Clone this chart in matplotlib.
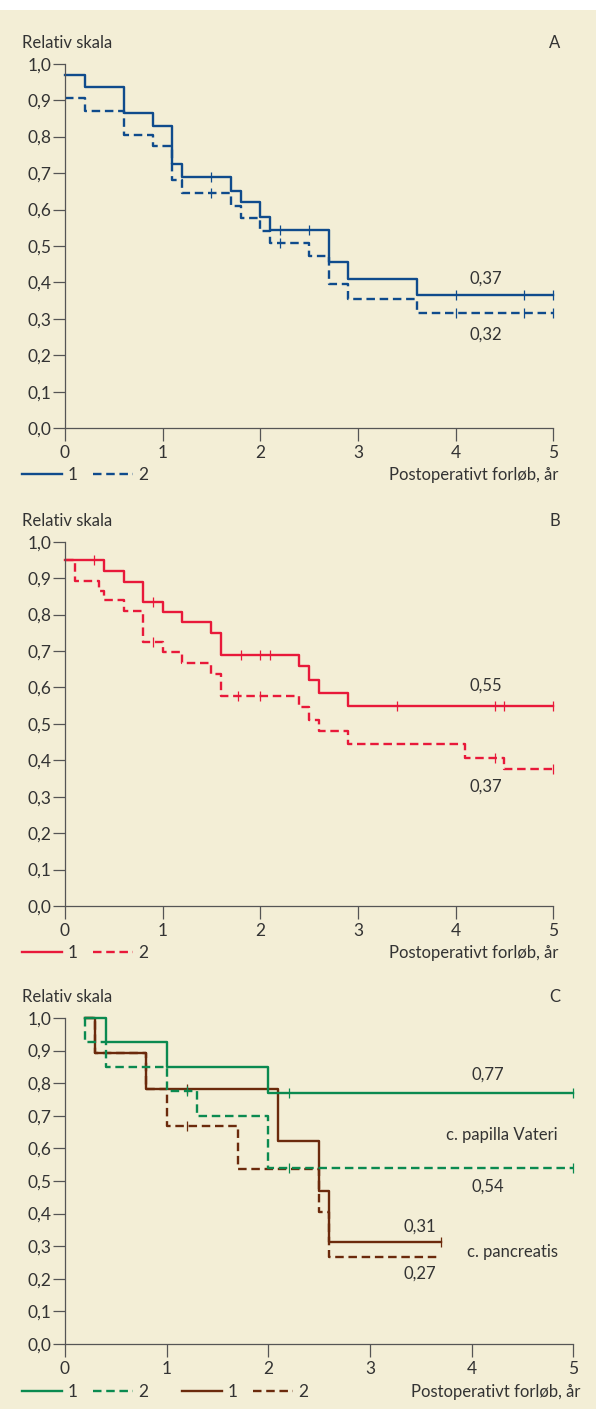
import numpy as np
import matplotlib.pyplot as plt
from matplotlib.lines import Line2D
from matplotlib.patches import Rectangle

plt.rcParams['font.family'] = ['Lato', 'DejaVu Sans']

# ---- data (time in years, relative survival) ----
# panel A
a1_t = [0, 0.2, 0.6, 0.9, 1.1, 1.2, 1.7, 1.8, 2.0, 2.1, 2.7, 2.9, 3.6, 5.0]
a1_s = [0.97, 0.935, 0.865, 0.83, 0.725, 0.69, 0.65, 0.62, 0.58, 0.545, 0.455, 0.41, 0.365, 0.365]
a1_c = [1.5, 2.2, 2.5, 4.0, 4.7, 5.0]
a2_t = [0, 0.2, 0.6, 0.9, 1.1, 1.2, 1.7, 1.8, 2.0, 2.1, 2.5, 2.7, 2.9, 3.6, 5.0]
a2_s = [0.905, 0.87, 0.805, 0.775, 0.68, 0.645, 0.61, 0.578, 0.54, 0.508, 0.472, 0.395, 0.355, 0.315, 0.315]
a2_c = [1.5, 2.2, 4.0, 4.7, 5.0]
# panel B
b1_t = [0, 0.4, 0.6, 0.8, 1.0, 1.2, 1.5, 1.6, 2.4, 2.5, 2.6, 2.9, 5.0]
b1_s = [0.95, 0.92, 0.89, 0.835, 0.808, 0.78, 0.75, 0.69, 0.66, 0.62, 0.586, 0.549, 0.549]
b1_c = [0.3, 0.9, 1.8, 2.0, 2.1, 3.4, 4.4, 4.5, 5.0]
b2_t = [0, 0.1, 0.35, 0.4, 0.6, 0.8, 1.0, 1.2, 1.5, 1.6, 2.4, 2.5, 2.6, 2.9, 4.1, 4.5, 5.0]
b2_s = [0.95, 0.892, 0.865, 0.84, 0.81, 0.725, 0.696, 0.668, 0.638, 0.576, 0.547, 0.51, 0.48, 0.444, 0.407, 0.375, 0.375]
b2_c = [0.9, 1.77, 2.0, 4.4, 5.0]
# panel C: papilla Vateri (green), pancreatis (brown)
c1_t = [0.2, 0.4, 1.0, 2.0, 5.0]
c1_s = [1.0, 0.927, 0.849, 0.771, 0.771]
c1_c = [2.2, 5.0]
c2_t = [0.2, 0.2, 0.4, 1.0, 1.3, 2.0, 5.0]
c2_s = [1.0, 0.927, 0.849, 0.775, 0.699, 0.541, 0.541]
c2_c = [1.2, 2.2, 5.0]
c3_t = [0.2, 0.3, 0.8, 2.1, 2.5, 2.6, 3.7]
c3_s = [1.0, 0.892, 0.782, 0.624, 0.47, 0.312, 0.312]
c3_c = [1.2, 3.7]
c4_t = [0.2, 0.3, 0.8, 1.0, 1.7, 2.5, 2.6, 3.7]
c4_s = [1.0, 0.892, 0.782, 0.67, 0.537, 0.404, 0.268, 0.268]
c4_c = [1.2]

y_ticks = [0, 0.1, 0.2, 0.3, 0.4, 0.5, 0.6, 0.7, 0.8, 0.9, 1.0]
y_labels = ['0,0', '0,1', '0,2', '0,3', '0,4', '0,5', '0,6', '0,7', '0,8', '0,9', '1,0']
x_ticks = [0, 1, 2, 3, 4, 5]

bg = '#f3eed6'
txt = '#333333'
blue = '#0f4b8c'
red = '#e8193a'
green = '#0a8a50'
brown = '#6b2a0c'
FS = 12

W, H = 596, 1409
fig = plt.figure(figsize=(W / 100, H / 100), dpi=100, facecolor=bg)
fig.patches.append(Rectangle((0, 1 - 10 / H), 1, 10 / H, transform=fig.transFigure,
                             facecolor='white', edgecolor='none'))


def px(x, y):
    return x / W, 1 - y / H


def make_ax(x0, x1, ytop, ybot):
    ax = fig.add_axes([x0 / W, 1 - ybot / H, (x1 - x0) / W, (ybot - ytop) / H])
    ax.set_facecolor('none')
    ax.set_xlim(0, 5)
    ax.set_ylim(0, 1.0)
    for s in ['top', 'right']:
        ax.spines[s].set_visible(False)
    for s in ['left', 'bottom']:
        ax.spines[s].set_color('#555555')
        ax.spines[s].set_linewidth(0.9)
    ax.set_yticks(y_ticks)
    ax.set_yticklabels(y_labels)
    ax.set_xticks(x_ticks)
    ax.tick_params(axis='both', direction='out', length=9, width=0.9, color='#555555',
                   labelsize=FS + 0.5, labelcolor=txt)
    ax.tick_params(axis='y', pad=0.5)
    ax.tick_params(axis='x', pad=3)
    return ax


def surv_at(t, s, tc):
    i = np.searchsorted(t, tc, side='right') - 1
    return np.asarray(s)[np.clip(i, 0, len(s) - 1)]


DASH = (3.6, 2.0)


def km(ax, t, s, c, color, dashed):
    ls = (0, DASH) if dashed else '-'
    ax.step(t, s, where='post', color=color, lw=1.7, linestyle=ls, clip_on=False)
    if len(c):
        ax.plot(c, [surv_at(t, s, v) for v in c], linestyle='none', marker='|',
                markersize=7, markeredgewidth=0.9, color=color, clip_on=False)


def legend(ax, handles, labels, x, y):
    leg = ax.legend(handles, labels, loc='center left', bbox_to_anchor=px(x, y),
                    bbox_transform=fig.transFigure, ncol=len(labels), frameon=False,
                    fontsize=FS + 0.5, handlelength=2.3, handletextpad=0.3, columnspacing=0.9,
                    borderpad=0, borderaxespad=0)
    for t in leg.get_texts():
        t.set_color(txt)
    return leg


def header(ytxt, letter):
    fig.text(*px(22, ytxt), 'Relativ skala', fontsize=FS, color=txt, va='center', ha='left')
    fig.text(*px(555, ytxt), letter, fontsize=FS, color=txt, va='center', ha='center')


def xlabel(x, y):
    fig.text(*px(x, y), 'Postoperativt forløb, år', fontsize=FS, color=txt,
             va='center', ha='right')


# ---- panel A ----
axA = make_ax(65, 553.3, 63.7, 428.3)
km(axA, a1_t, a1_s, a1_c, blue, False)
km(axA, a2_t, a2_s, a2_c, blue, True)
axA.text(4.31, 0.41, '0,37', fontsize=FS, color=txt, ha='center', va='center')
axA.text(4.31, 0.256, '0,32', fontsize=FS, color=txt, ha='center', va='center')
header(43, 'A')
xlabel(558, 475)
legend(axA, [Line2D([], [], color=blue, lw=1.7),
             Line2D([], [], color=blue, lw=1.7, linestyle=(0, DASH))],
       ['1', '2'], 22, 475)

# ---- panel B ----
axB = make_ax(65, 553.3, 541.7, 906)
km(axB, b1_t, b1_s, b1_c, red, False)
km(axB, b2_t, b2_s, b2_c, red, True)
axB.text(4.31, 0.606, '0,55', fontsize=FS, color=txt, ha='center', va='center')
axB.text(4.31, 0.328, '0,37', fontsize=FS, color=txt, ha='center', va='center')
header(521, 'B')
xlabel(558, 953)
legend(axB, [Line2D([], [], color=red, lw=1.7),
             Line2D([], [], color=red, lw=1.7, linestyle=(0, DASH))],
       ['1', '2'], 22, 953)

# ---- panel C ----
axC = make_ax(65, 573.3, 1018, 1344)
km(axC, c4_t, c4_s, c4_c, brown, True)
km(axC, c3_t, c3_s, c3_c, brown, False)
km(axC, c2_t, c2_s, c2_c, green, True)
km(axC, c1_t, c1_s, c1_c, green, False)
axC.text(4.16, 0.825, '0,77', fontsize=FS, color=txt, ha='center', va='center')
axC.text(4.85, 0.64, 'c. papilla Vateri', fontsize=FS, color=txt, ha='right', va='center')
axC.text(4.16, 0.482, '0,54', fontsize=FS, color=txt, ha='center', va='center')
axC.text(3.49, 0.36, '0,31', fontsize=FS, color=txt, ha='center', va='center')
axC.text(4.85, 0.283, 'c. pancreatis', fontsize=FS, color=txt, ha='right', va='center')
axC.text(3.49, 0.217, '0,27', fontsize=FS, color=txt, ha='center', va='center')
header(997, 'C')
xlabel(580, 1392)
lg = legend(axC, [Line2D([], [], color=green, lw=1.7),
                  Line2D([], [], color=green, lw=1.7, linestyle=(0, DASH))],
            ['1', '2'], 22, 1392)
axC.add_artist(lg)
legend(axC, [Line2D([], [], color=brown, lw=1.7),
             Line2D([], [], color=brown, lw=1.7, linestyle=(0, DASH))],
       ['1', '2'], 182, 1392)

fig.savefig('out.png', dpi=100, facecolor=bg)
